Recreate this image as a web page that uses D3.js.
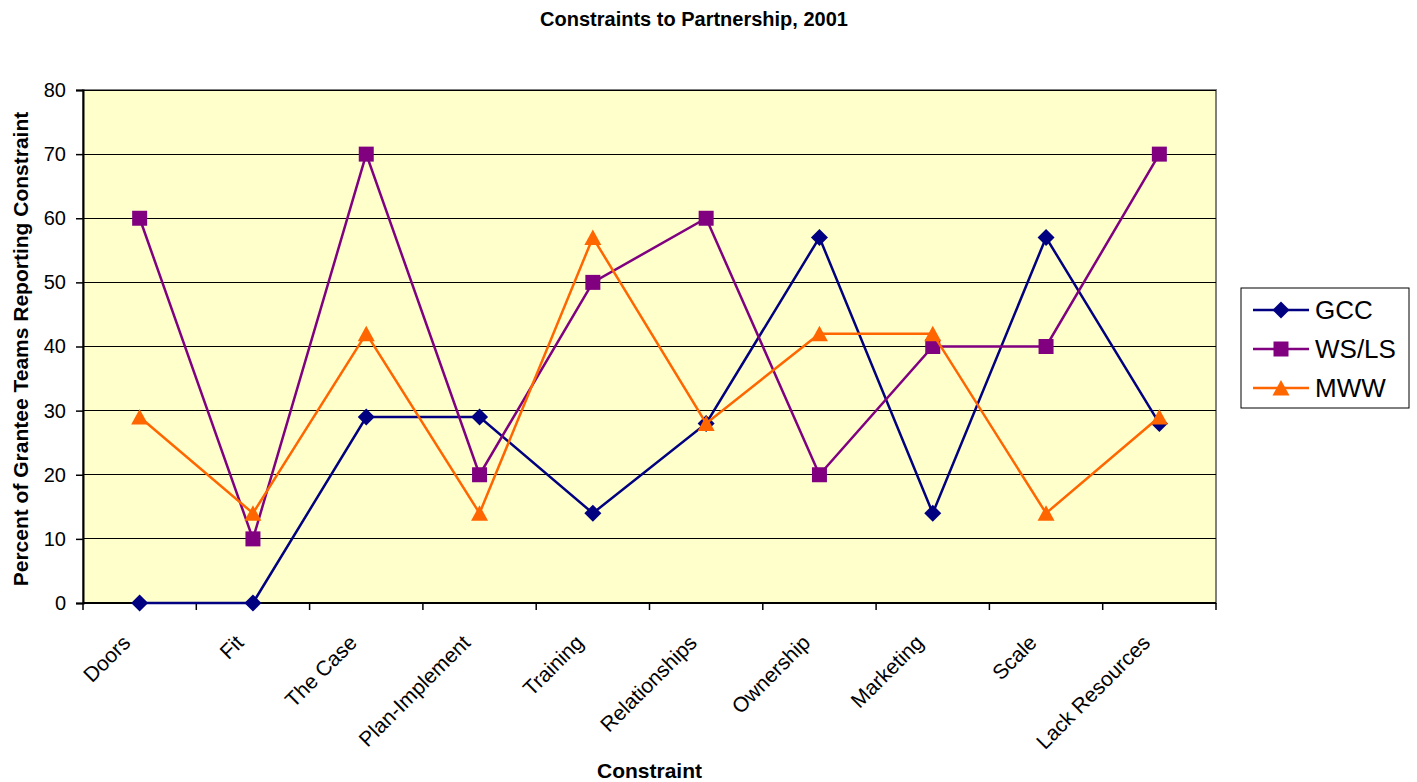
<!DOCTYPE html>
<html>
<head>
<meta charset="UTF-8">
<title>Constraints to Partnership, 2001</title>
<script src="https://cdn.jsdelivr.net/npm/d3@7/dist/d3.min.js"></script>
<style>
body { margin: 0; background: #fff; }
svg text { font-family: Arial, "Liberation Sans", sans-serif; fill: #000; }
</style>
</head>
<body>
<div id="chart"></div>
<script>
// data
var categories = ["Doors", "Fit", "The Case", "Plan-Implement", "Training",
                  "Relationships", "Ownership", "Marketing", "Scale", "Lack Resources"];
var gcc  = [0, 0, 29, 29, 14, 28, 57, 14, 57, 28];
var wsls = [60, 10, 70, 20, 50, 60, 20, 40, 40, 70];
var mww  = [29, 14, 42, 14, 57, 28, 42, 42, 14, 29];
var yTicks = [0, 10, 20, 30, 40, 50, 60, 70, 80];

var series = [
  { name: "GCC",   values: gcc,  color: "#000080", shape: "diamond" },
  { name: "WS/LS", values: wsls, color: "#800080", shape: "square" },
  { name: "MWW",   values: mww,  color: "#FF6600", shape: "triangle" }
];

var W = 1417, H = 782;
var plot = { left: 83, top: 90, right: 1216, bottom: 603 };

var svg = d3.select("#chart").append("svg")
  .attr("width", W).attr("height", H);

var x = d3.scaleBand().domain(categories).range([plot.left, plot.right]);
var y = d3.scaleLinear().domain([0, 80]).range([plot.bottom, plot.top]);

// excel-style markers
var markers = {
  diamond: { draw: function(ctx) {
    var r = 8.5;
    ctx.moveTo(0, -r); ctx.lineTo(r, 0); ctx.lineTo(0, r); ctx.lineTo(-r, 0); ctx.closePath();
  } },
  square: { draw: function(ctx) {
    ctx.rect(-7.5, -7.5, 15, 15);
  } },
  triangle: { draw: function(ctx) {
    ctx.moveTo(0, -8); ctx.lineTo(8.5, 7.5); ctx.lineTo(-8.5, 7.5); ctx.closePath();
  } }
};
function markerPath(shape) { return d3.symbol().type(markers[shape])(); }

// plot background
svg.append("rect")
  .attr("x", plot.left).attr("y", plot.top)
  .attr("width", plot.right - plot.left).attr("height", plot.bottom - plot.top)
  .attr("fill", "#FFFFCC").attr("stroke", "#808080").attr("stroke-width", 2);

// gridlines
svg.append("g").selectAll("line")
  .data(yTicks.filter(function(d) { return d > 0; }))
  .enter().append("line")
  .attr("x1", plot.left).attr("x2", plot.right)
  .attr("y1", function(d) { return y(d); }).attr("y2", function(d) { return y(d); })
  .attr("stroke", "#000").attr("stroke-width", 1).attr("shape-rendering", "crispEdges");

// y axis
var yAxis = svg.append("g")
  .attr("transform", "translate(" + plot.left + ",0)")
  .call(d3.axisLeft(y).tickValues(yTicks).tickSize(7).tickPadding(10));
yAxis.select(".domain").attr("stroke", "#000").attr("stroke-width", 2);
yAxis.selectAll(".tick line").attr("stroke", "#000").attr("stroke-width", 1.5);
yAxis.selectAll("text").style("font-size", "20px").attr("fill", "#000");

// x axis: ticks at category boundaries
var xg = svg.append("g").attr("transform", "translate(0," + plot.bottom + ")");
xg.append("line")
  .attr("x1", plot.left).attr("x2", plot.right)
  .attr("stroke", "#000").attr("stroke-width", 2);
var bounds = categories.map(function(c) { return x(c); }).concat([plot.right]);
xg.selectAll("line.tk").data(bounds).enter().append("line")
  .attr("class", "tk")
  .attr("x1", function(d) { return d; }).attr("x2", function(d) { return d; })
  .attr("y1", 0).attr("y2", 7)
  .attr("stroke", "#000").attr("stroke-width", 1.5);
xg.selectAll("text").data(categories).enter().append("text")
  .attr("transform", function(d) {
    return "translate(" + (x(d) + x.bandwidth() / 2 - 8) + ",41) rotate(-45)";
  })
  .attr("text-anchor", "end")
  .style("font-size", "21px")
  .text(function(d) { return d; });

// lines and markers
var line = d3.line()
  .x(function(d, i) { return x(categories[i]) + x.bandwidth() / 2; })
  .y(function(d) { return y(d); });

series.forEach(function(s) {
  var g = svg.append("g");
  g.append("path")
    .datum(s.values)
    .attr("d", line)
    .attr("fill", "none")
    .attr("stroke", s.color)
    .attr("stroke-width", 2.5);
  g.selectAll("path.pt").data(s.values).enter().append("path")
    .attr("class", "pt")
    .attr("d", markerPath(s.shape))
    .attr("transform", function(d, i) {
      return "translate(" + (x(categories[i]) + x.bandwidth() / 2) + "," + y(d) + ")";
    })
    .attr("fill", s.color);
});

// title
svg.append("text")
  .attr("x", 694).attr("y", 26)
  .attr("text-anchor", "middle")
  .style("font-size", "20px").style("font-weight", "bold")
  .text("Constraints to Partnership, 2001");

// axis titles
svg.append("text")
  .attr("x", (plot.left + plot.right) / 2).attr("y", 778)
  .attr("text-anchor", "middle")
  .style("font-size", "21px").style("font-weight", "bold")
  .text("Constraint");

svg.append("text")
  .attr("transform", "translate(28,349) rotate(-90)")
  .attr("text-anchor", "middle")
  .style("font-size", "21px").style("font-weight", "bold")
  .text("Percent of Grantee Teams Reporting Constraint");

// legend
var legend = svg.append("g").attr("transform", "translate(1241,288)");
legend.append("rect")
  .attr("width", 168).attr("height", 120)
  .attr("fill", "#fff").attr("stroke", "#000").attr("stroke-width", 1);
var items = legend.selectAll("g.item").data(series).enter().append("g")
  .attr("class", "item")
  .attr("transform", function(d, i) { return "translate(0," + (22 + i * 39) + ")"; });
items.append("line")
  .attr("x1", 12).attr("x2", 68)
  .attr("stroke", function(d) { return d.color; }).attr("stroke-width", 2.5);
items.append("path")
  .attr("d", function(d) { return markerPath(d.shape); })
  .attr("transform", "translate(40,0)")
  .attr("fill", function(d) { return d.color; });
items.append("text")
  .attr("x", 74).attr("dy", "0.36em")
  .style("font-size", "26px")
  .text(function(d) { return d.name; });
</script>
</body>
</html>
